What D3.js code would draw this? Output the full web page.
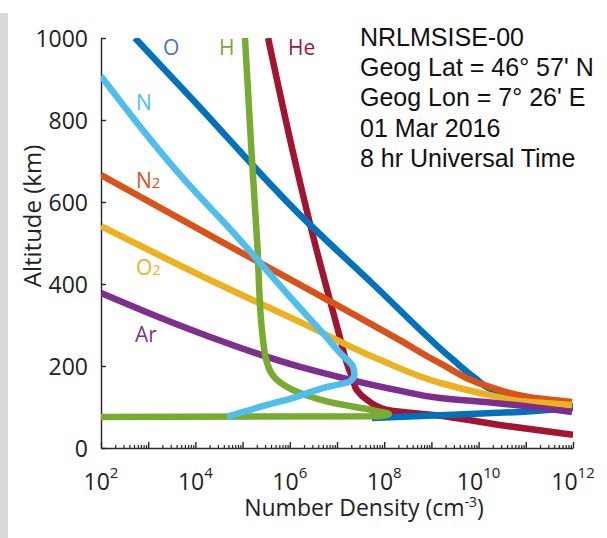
<!DOCTYPE html>
<html>
<head>
<meta charset="utf-8">
<script src="https://cdn.jsdelivr.net/npm/d3@7"></script>
<style>
  body { margin: 0; background: #fff; }
  svg { display: block; }
  .tick text, .lbl { font-family: "Open Sans", sans-serif; fill: #222; }
  .info { font-family: "Liberation Sans", Arial, sans-serif; font-size: 25px; fill: #111; }
</style>
</head>
<body>
<svg id="chart" width="607" height="538"></svg>
<script>
// altitude (km) and log10 number density (cm^-3)
const heAlt = [32, 56, 80, 93, 117, 141, 166, 207, 288, 500, 700, 1000];
const heDen = [12, 10.45, 9.1, 8.06, 7.64, 7.42, 7.34, 7.21, 7.02, 6.53, 6.11, 5.54];

const oAlt = [73, 80, 88, 95, 101, 105, 117, 137, 171, 215, 400, 568, 849, 1000];
const oDen = [7.74, 9.18, 10.88, 11.72, 12.1, 11.72, 11.09, 10.39, 9.92, 9.46, 7.76, 6.22, 3.95, 2.72];

const n2Alt = [112, 124, 149, 207, 263, 398, 505, 666];
const n2Den = [11.98, 11.09, 10.24, 9.18, 8.33, 6.22, 4.52, 2.0];

const o2Alt = [105, 112, 129, 159, 215, 307, 398, 541];
const o2Den = [11.98, 11.09, 10.24, 9.18, 7.91, 6.22, 4.52, 2.0];

const arAlt = [88, 110, 122, 140, 198, 280, 378];
const arDen = [11.98, 10.35, 9.18, 8.33, 6.22, 4.10, 2.0];

const hAlt = [75, 77.5, 83, 90, 95, 110, 134, 166, 207, 288, 500, 700, 1000];
const hDen = [1.0, 7.9, 8.1, 7.85, 7.64, 6.92, 6.22, 5.73, 5.52, 5.41, 5.31, 5.20, 5.05];

const nAlt = [76, 105, 120, 149, 163, 180, 198, 230, 271, 350, 561, 612, 907];
const nDen = [4.67, 5.52, 6.0, 6.79, 7.28, 7.37, 7.34, 7.08, 6.77, 6.15, 4.52, 4.10, 2.0];

const species = ["He", "O", "N2", "O2", "Ar", "H", "N"];
const colors = ["#A2142F", "#0072BD", "#D95319", "#EDB120", "#7E2F8E", "#77AC30", "#4DBEEE"];
const profiles = [[heAlt, heDen], [oAlt, oDen], [n2Alt, n2Den], [o2Alt, o2Den], [arAlt, arDen], [hAlt, hDen], [nAlt, nDen]];

const altTicks = [0, 200, 400, 600, 800, 1000];
const decadeTicks = d3.range(2, 13);
const infoLines = ["NRLMSISE-00", "Geog Lat = 46\u00b0 57' N", "Geog Lon = 7\u00b0 26' E", "01 Mar 2016", "8 hr Universal Time"];

const svg = d3.select("#chart");

// grey strip at the left edge
svg.append("rect").attr("x", 0).attr("y", 13).attr("width", 8).attr("height", 525).attr("fill", "#dadada");

const x = d3.scaleLog().domain([1e2, 1e12]).range([101, 573]);
const y = d3.scaleLinear().domain([0, 1000]).range([448, 38]);

svg.append("clipPath").attr("id", "plotclip")
  .append("rect")
  .attr("x", x.range()[0]).attr("y", y.range()[1])
  .attr("width", x.range()[1] - x.range()[0])
  .attr("height", y.range()[0] - y.range()[1]);

// axes
const yAxis = d3.axisLeft(y).tickValues(altTicks).tickFormat(d3.format("d"))
  .tickSizeInner(-5).tickSizeOuter(0).tickPadding(13);
const gy = svg.append("g").attr("transform", "translate(" + x.range()[0] + ",0)").call(yAxis);
gy.select(".domain").attr("stroke", "#262626").attr("stroke-width", 1.4);
gy.selectAll(".tick line").attr("stroke", "#262626").attr("stroke-width", 1.4);
gy.selectAll(".tick text").attr("font-size", 23).attr("dy", "0.37em").style("fill", "#222");

const minorTicks = [];
decadeTicks.slice(0, -1).forEach(function(e) {
  for (let k = 2; k <= 9; k++) minorTicks.push(k * Math.pow(10, e));
});

const gxMinor = svg.append("g").attr("transform", "translate(0," + y.range()[0] + ")")
  .call(d3.axisBottom(x).tickValues(minorTicks).tickSize(-3).tickFormat(""));
gxMinor.select(".domain").remove();
gxMinor.selectAll(".tick line").attr("stroke", "#262626").attr("stroke-width", 1.2);

const gx = svg.append("g").attr("transform", "translate(0," + y.range()[0] + ")")
  .call(d3.axisBottom(x).tickValues(decadeTicks.map(function(e) { return Math.pow(10, e); }))
    .tickSizeInner(-6).tickSizeOuter(0).tickFormat(""));
gx.select(".domain").attr("stroke", "#262626").attr("stroke-width", 1.4);
gx.selectAll(".tick line").attr("stroke", "#262626").attr("stroke-width", 1.4);

// x tick labels 10^n on even decades
decadeTicks.filter(function(e) { return e % 2 === 0; }).forEach(function(e) {
  const t = svg.append("text").attr("class", "lbl")
    .attr("x", x(Math.pow(10, e))).attr("y", 490)
    .attr("text-anchor", "middle").attr("font-size", 23);
  t.append("tspan").text("10");
  t.append("tspan").attr("font-size", 15).attr("dy", -12).text(e);
});

// axis titles
svg.append("text").attr("class", "lbl")
  .attr("transform", "translate(41,216) rotate(-90)")
  .attr("text-anchor", "middle").attr("font-size", 24)
  .text("Altitude (km)");

const xt = svg.append("text").attr("class", "lbl")
  .attr("x", 364).attr("y", 516).attr("text-anchor", "middle").attr("font-size", 23);
xt.append("tspan").text("Number Density (cm");
xt.append("tspan").attr("font-size", 14).attr("dy", -9).text("-3");
xt.append("tspan").attr("dy", 9).text(")");

// profiles
const line = d3.line()
  .x(function(d) { return x(Math.pow(10, d[1])); })
  .y(function(d) { return y(d[0]); })
  .curve(d3.curveMonotoneY);

const gLines = svg.append("g").attr("clip-path", "url(#plotclip)");
profiles.forEach(function(p, i) {
  const pts = p[0].map(function(a, j) { return [a, p[1][j]]; });
  gLines.append("path")
    .datum(pts)
    .attr("d", line)
    .attr("fill", "none")
    .attr("stroke", colors[i])
    .attr("stroke-width", 6.5);
});

// species labels
const labels = [
  { name: "O", sub: "", x: 163, y: 55, color: "#4472C4" },
  { name: "H", sub: "", x: 219, y: 55, color: "#77AC30" },
  { name: "He", sub: "", x: 288, y: 55, color: "#A2142F" },
  { name: "N", sub: "", x: 136, y: 110, color: "#4DBEEE" },
  { name: "N", sub: "2", x: 136, y: 188, color: "#D95319" },
  { name: "O", sub: "2", x: 136, y: 275, color: "#EDB120" },
  { name: "Ar", sub: "", x: 135, y: 342, color: "#7E2F8E" }
];
labels.forEach(function(l) {
  const t = svg.append("text").attr("x", l.x).attr("y", l.y)
    .attr("font-family", "'Open Sans', sans-serif").attr("font-size", 21).attr("fill", l.color);
  t.append("tspan").text(l.name);
  if (l.sub) t.append("tspan").attr("font-size", 15).text(l.sub);
});

// info block
infoLines.forEach(function(s, i) {
  svg.append("text").attr("class", "info").attr("x", 360).attr("y", 46 + i * 30.2).text(s);
});
</script>
</body>
</html>
